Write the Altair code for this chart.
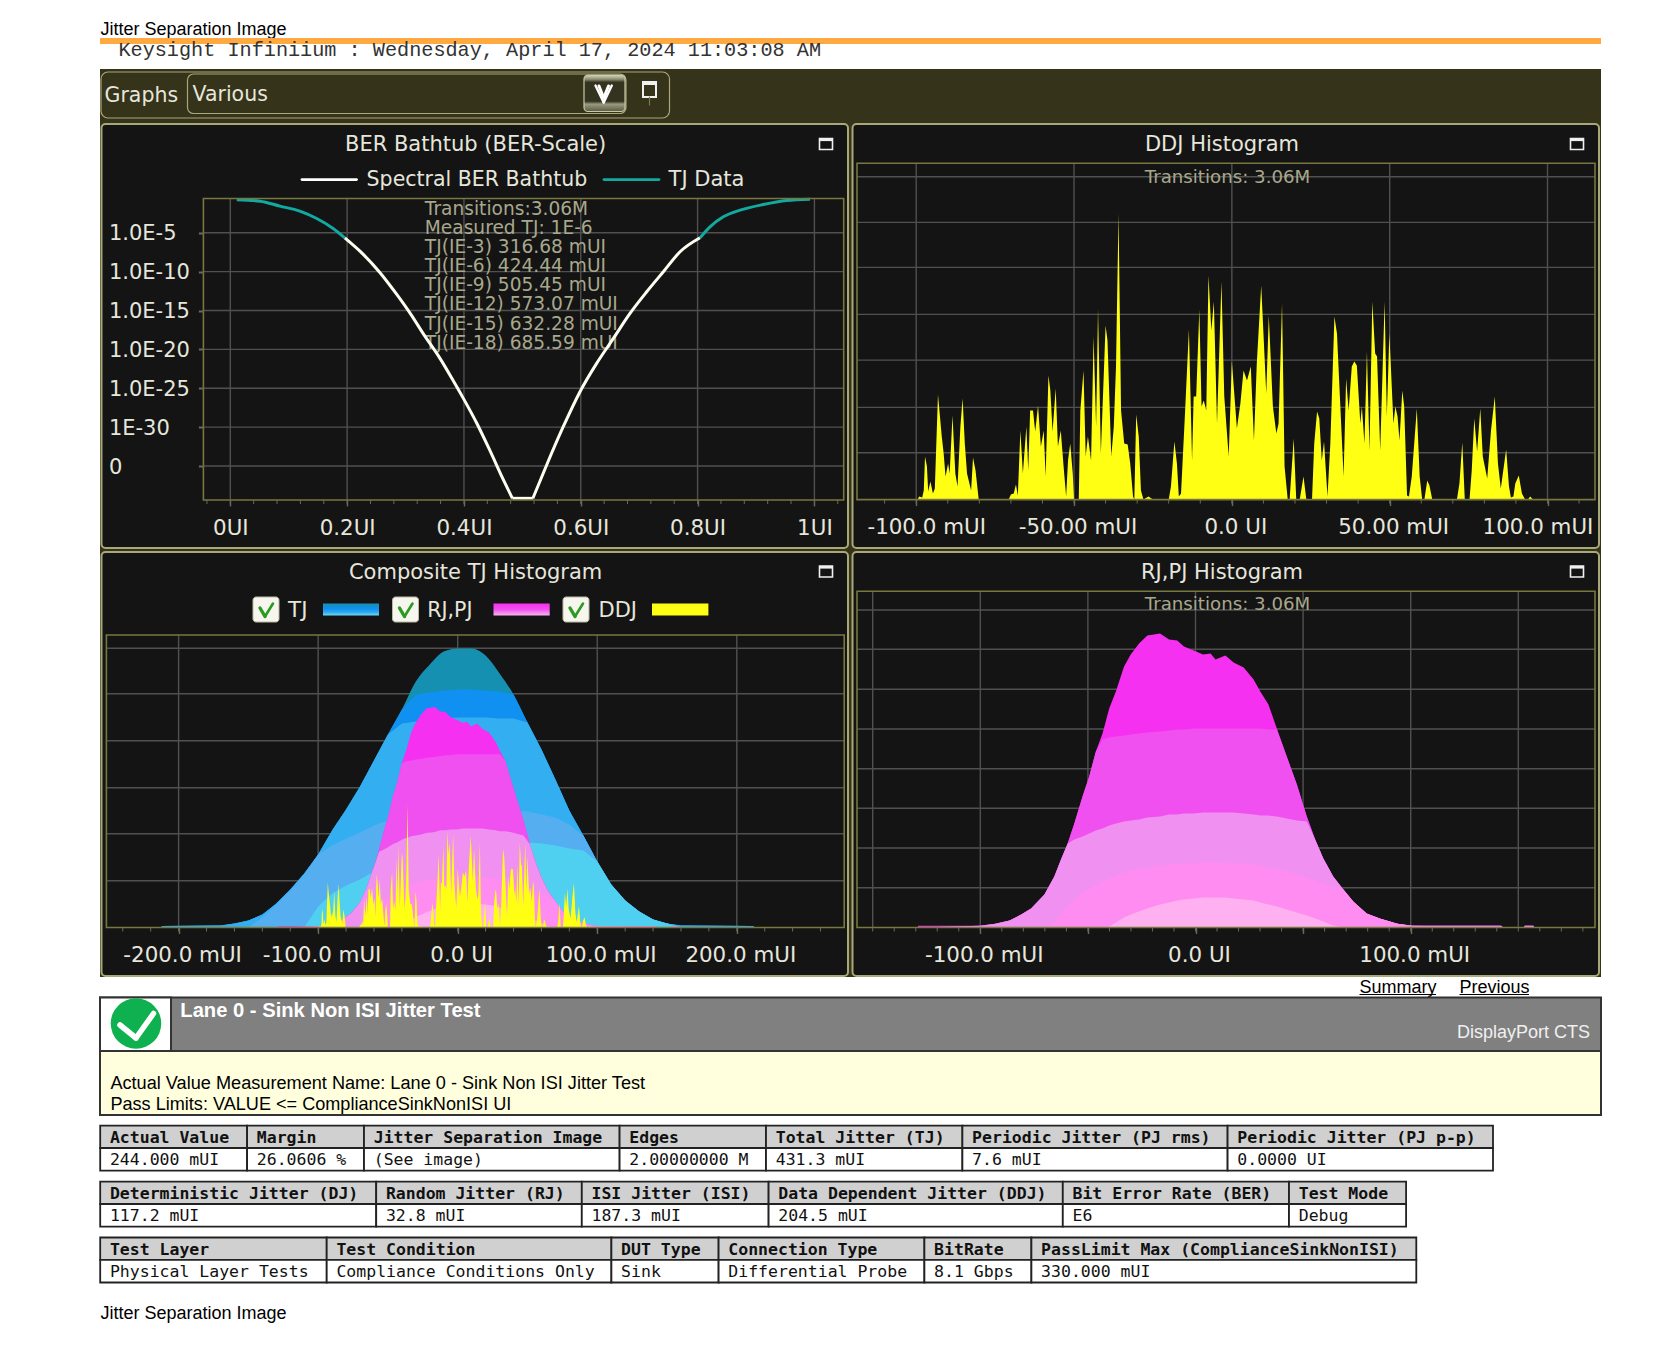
import altair as alt
import pandas as pd

# ---------- values ----------
bt_teal_l_x = [0.011, 0.051, 0.085, 0.119, 0.148, 0.176, 0.196]
bt_teal_l_y = [-0.76, -0.93, -1.57, -2.21, -3.16, -4.44, -5.64]
bt_white_l_x = [0.196, 0.222, 0.256, 0.285, 0.31, 0.33, 0.359, 0.382, 0.399, 0.422, 0.445, 0.467, 0.483]
bt_white_l_y = [-5.64, -7.36, -10.1, -12.93, -15.59, -17.94, -21.16, -24.07, -26.3, -29.5, -33.1, -36.7, -39.16]
bt_floor_x = [0.483, 0.518]
bt_floor_y = [-39.16, -39.16]
bt_white_r_x = [0.518, 0.5416, 0.57, 0.5987, 0.6272, 0.6558, 0.6843, 0.7129, 0.7414, 0.77, 0.8042]
bt_white_r_y = [-39.16, -34.87, -29.95, -25.44, -21.8, -18.59, -15.37, -12.59, -10.01, -7.44, -5.64]
bt_teal_r_x = [0.8042, 0.8213, 0.8441, 0.8726, 0.9126, 0.9525, 0.9925]
bt_teal_r_y = [-5.64, -4.23, -2.94, -2.09, -1.36, -0.84, -0.67]
bt_stats = ["Transitions:3.06M", "Measured TJ: 1E-6", "TJ(IE-3) 316.68 mUI", "TJ(IE-6) 424.44 mUI",
            "TJ(IE-9) 505.45 mUI", "TJ(IE-12) 573.07 mUI", "TJ(IE-15) 632.28 mUI", "TJ(IE-18) 685.59 mUI"]

ddj_x = [-99.5,-99.1,-98.1,-97.6,-97.2,-96.6,-96.2,-95.5,-94.7,-94.1,-93.1,-91.9,-91.3,-90.7,-89.9,-89.4,-88.5,-87.6,-86.9,-86.0,-85.3,-84.6,-83.9,-82.6,-82.0,-81.2,-80.2,
         -70.7,-70.0,-69.1,-68.4,-67.8,-67.0,-66.2,-65.1,-64.5,-63.9,-63.0,-62.3,-61.4,-60.5,-59.6,-59.0,-58.1,-57.5,-56.8,-55.8,-55.1,-54.2,-53.3,-52.5,-51.9,-51.2,-50.4,-50.0,
         -48.5,-48.0,-47.0,-46.3,-45.6,-44.6,-43.8,-43.0,-42.4,-41.5,-40.0,-39.4,-38.2,-37.4,-36.7,-35.9,-35.1,-34.1,-33.0,-32.2,-31.3,-30.9,
         -30.3,-29.5,-28.8,-28.0,-26.4,-25.0,-20.0,-19.3,-18.2,-17.4,-16.8,-16.1,-14.8,-13.6,-12.6,-12.1,-11.3,-10.3,-9.6,-8.9,-8.1,-7.4,-6.5,-5.7,-4.7,-3.3,-2.4,-1.0,0.0,1.6,2.7,3.7,4.8,6.0,7.0,7.9,9.3,10.9,11.7,13.0,14.1,14.8,15.9,16.7,17.7,18.3,19.6,20.4,21.5,22.7,23.6,25.4,26.1,27.0,27.7,28.5,29.2,30.3,31.2,32.5,33.3,35.4,36.2,37.0,38.0,38.8,39.6,40.7,41.2,42.0,
         42.8,43.6,44.5,45.4,46.0,47.0,48.4,49.1,49.9,51.2,51.8,52.5,53.1,54.0,54.6,55.5,56.1,57.0,58.6,59.5,60.3,61.0,61.9,62.6,63.5,71.3,72.1,73.0,73.8,75.3,76.0,76.8,77.7,78.7,79.5,80.9,82.1,83.3,84.3,85.2,86.9,87.8,88.4,89.2,89.8,90.9,91.9,92.9,93.8,94.5,95.4]
ddj_h = [0,3,2,9,43,33,8,18,6,11,105,63,46,23,36,26,84,26,13,73,101,56,26,9,42,29,0,
         0,5,6,15,4,69,26,73,29,89,89,68,94,53,69,23,124,109,68,111,53,69,33,3,39,56,26,0,
         0,89,129,43,63,39,163,73,191,46,174,159,43,73,133,286,89,56,55,36,3,0,
         85,63,9,0,3,0,0,13,58,36,3,6,89,170,39,103,103,190,93,99,89,224,169,198,76,218,103,43,138,71,96,129,119,133,59,136,214,106,184,93,66,76,196,33,0,0,61,0,0,23,0,0,56,88,81,39,58,3,56,183,166,23,121,89,133,138,134,76,93,56,
         148,49,198,146,143,49,198,83,166,76,93,83,59,109,93,4,3,23,91,23,0,0,19,14,0,0,16,57,0,0,29,81,48,91,43,21,69,103,36,11,50,13,2,3,16,24,6,0,0,3,0]

tj_x = [-212,-170,-160,-150,-140,-130,-120,-110,-100,-90,-80,-70,-60,-50,-40,-30,-20,-10,0,10,20,30,40,50,60,70,80,90,100,110,120,130,140,150,160,212]
tj_env = [1.5,2,4,7,13,24,38,54,73,97,118,141,167,193,218,246,263,276,279,279,272,254,233,205,178,148,117,92,66,43,27,16,8,4,2,1.5]
tj_b2 = [226,226,226,226,226,226,226,226,226,226,226,226,226,226,230,233,235,237,238,238,237,236,234,230,226,226,226,226,226,226,226,226,226,226,226,226]
tj_b3 = [202,202,202,202,202,202,202,202,202,202,202,202,202,202,204,206,208,209,210,210,210,209,209,208,205,205,205,205,205,205,205,205,205,205,205,205]
tj_b4 = [0,0,0,0,10,23,37,53,74,82,89,95,102,107,111,114,117,118,118,118,118,117,117,116,113,110,103,94,81,70,60,60,60,60,0,0]
tj_b5 = [0,0,0,0,0,0,0,0,21,34,42,48,56,63,69,74,79,83,84,85,85,85,85,85,84,82,79,77,73,60,50,40,30,4,0,0]

rj_x = [-129,-100,-93,-86.4,-81,-76.4,-70.2,-65.6,-62.5,-59.4,-56.3,-52.5,-49.4,-46.3,-43.2,-40.1,-37,-33.2,-30.1,-26.2,-22.4,-16.5,-12.3,-8.5,-5.4,-0.8,3.5,7,9.3,13.9,17.7,22.4,27,30.1,33.9,37.8,42.4,47.1,51.7,55.6,59.4,64,68.7,73.3,79.5,85.6,93.8,100.7,142,143,152.5,153,157,157.5]
rj_env = [1.7,1.7,3.7,7,13,19,33,51,68,84,104,131,151,176,194,219,236,261,273,284,292,294,288,287,281,277,273,274,268,272,265,260,248,236,223,199,171,143,111,88,69,51,38,26,14,9,3.7,1.7,1.7,0,0,1.7,1.7,0]
rj_b2 = [0,2,190,190,190,190,190,190,190,190,190,190,190,190,188,190,191,192,193,194,195,196,197,198,198,199,199,199,199,199,199,199,199,199,198,198,195,195,195,195,195,195,195,195,195,195,195,195,195,195,195,195,195,195]
rj_b3 = [0,2,86,86,86,86,86,86,86,85,88,91,94,97,99,102,104,106,107,108,110,111,113,113,114,114,115,115,115,115,115,114,113,112,112,111,109,107,106,104,100,100,100,100,100,100,100,100,100,100,100,100,100,100]
rj_b4 = [0,0,0,0,0,0,0,5,14,21,27,35,39,42,46,49,52,55,57,59,60,62,63,63,64,64,65,65,65,65,64,64,63,62,60,59,56,54,50,47,44,41,38,30,20,10,4,2,0,0,0,0,0,0]
rj_b5 = [0,0,0,0,0,0,0,0,0,0,0,0,0,0,0,1,5,10,13,16,19,23,25,27,28,29,30,30,30,30,29,28,27,25,23,21,18,15,12,9,6,2,0,0,0,0,0,0,0,0,0,0,0,0]

t1_head = ["Actual Value", "Margin", "Jitter Separation Image", "Edges", "Total Jitter (TJ)", "Periodic Jitter (PJ rms)", "Periodic Jitter (PJ p-p)"]
t1_vals = ["244.000 mUI", "26.0606 %", "(See image)", "2.00000000 M", "431.3 mUI", "7.6 mUI", "0.0000 UI"]
t2_head = ["Deterministic Jitter (DJ)", "Random Jitter (RJ)", "ISI Jitter (ISI)", "Data Dependent Jitter (DDJ)", "Bit Error Rate (BER)", "Test Mode"]
t2_vals = ["117.2 mUI", "32.8 mUI", "187.3 mUI", "204.5 mUI", "E6", "Debug"]
t3_head = ["Test Layer", "Test Condition", "DUT Type", "Connection Type", "BitRate", "PassLimit Max (ComplianceSinkNonISI)"]
t3_vals = ["Physical Layer Tests", "Compliance Conditions Only", "Sink", "Differential Probe", "8.1 Gbps", "330.000 mUI"]

# ---------- styles ----------
W, H = 1639, 1331
UI = "DejaVu Sans"
ARIAL = "Liberation Sans"
MONO = "DejaVu Sans Mono"
OLIVE = "#35331a"
PANEL = "#141414"
FRAME = "#a8a878"
BORDER = "#77773f"
GRID = "#505050"
TICK = "#6a6a58"
TXT = "#e6e6dc"
DIM = "#a8a88c"
YEL = "#ffff14"
TJ_C = ["#1590b0", "#1090f0", "#33aef0", "#55aef0", "#50d0f0"]
RJ_C = ["#f530f0", "#f050f0", "#f090f0", "#ff8cf0", "#ffb0f0"]

L = []
def P(v):
    return v - 8

def rect(x0, y0, x1, y1, fill=None, stroke=None, sw=1, r=0):
    kw = {}
    if fill is not None:
        kw["fill"] = fill
    else:
        kw["fillOpacity"] = 0
    if stroke is not None:
        kw["stroke"] = stroke
        kw["strokeWidth"] = sw
    if r:
        kw["cornerRadius"] = r
    L.append(alt.Chart().mark_rect(**kw).encode(x=alt.value(P(x0)), x2=alt.value(P(x1)),
                                                y=alt.value(P(y0)), y2=alt.value(P(y1))))

def seg(x0, y0, x1, y1, color, sw=2):
    L.append(alt.Chart().mark_rule(color=color, strokeWidth=sw, strokeCap="round").encode(
        x=alt.value(P(x0)), x2=alt.value(P(x1)), y=alt.value(P(y0)), y2=alt.value(P(y1))))

def text(x, y, s, font=UI, size=20, color=TXT, align="left", weight="normal"):
    L.append(alt.Chart().mark_text(text=s, font=font, fontSize=size, color=color, align=align,
                                   baseline="middle", fontWeight=weight).encode(x=alt.value(P(x)), y=alt.value(P(y + 1))))

def scale(dom, rng):
    return alt.Scale(domain=dom, range=[P(rng[0]), P(rng[1])], nice=False, zero=False)

def area(xs, hs, color, xsc, ysc, interp="linear"):
    df = pd.DataFrame({"x": xs, "h": hs})
    L.append(alt.Chart(df).mark_area(color=color, interpolate=interp).encode(
        x=alt.X("x:Q", scale=xsc, axis=None), y=alt.Y("h:Q", scale=ysc, axis=None, stack=None)))

def line(xs, ys, color, xsc, ysc, sw=3):
    df = pd.DataFrame({"x": xs, "y": ys})
    L.append(alt.Chart(df).mark_line(color=color, strokeWidth=sw, interpolate="monotone").encode(
        x=alt.X("x:Q", scale=xsc, axis=None), y=alt.Y("y:Q", scale=ysc, axis=None)))

def grid_x(vals, xsc, top, bot, axis=None):
    L.append(alt.Chart(pd.DataFrame({"v": vals})).mark_rule(color=GRID, strokeWidth=1.4).encode(
        x=alt.X("v:Q", scale=xsc, axis=axis), y=alt.value(P(top)), y2=alt.value(P(bot))))

def grid_y(vals, ysc, left, right, axis=None):
    L.append(alt.Chart(pd.DataFrame({"v": vals})).mark_rule(color=GRID, strokeWidth=1.4).encode(
        y=alt.Y("v:Q", scale=ysc, axis=axis), x=alt.value(P(left)), x2=alt.value(P(right))))

def minor_ticks(vals, xsc, bot):
    L.append(alt.Chart(pd.DataFrame({"v": vals})).mark_rule(color=TICK, strokeWidth=1).encode(
        x=alt.X("v:Q", scale=xsc, axis=None), y=alt.value(P(bot)), y2=alt.value(P(bot + 4))))

def x_axis(vals, bot, expr, off):
    return alt.Axis(values=vals, orient="bottom", offset=P(bot) - H, tickSize=6, tickColor=TICK, tickWidth=1.4,
                    domain=False, grid=False, title=None, labelExpr=expr, labelFont=UI, labelFontSize=21.4,
                    labelColor=TXT, labelPadding=22, labelBaseline="middle", labelFlush=False, labelOverlap=False,
                    labelBound=False, labelOffset=off, zindex=1)

def maxicon(x0, y0):
    rect(x0, y0, x0 + 13, y0 + 11, stroke="#f0f0f0", sw=1.6)
    rect(x0, y0, x0 + 13, y0 + 2.6, fill="#f0f0f0")

def checkbox(x0):
    rect(x0, 597, x0 + 26, 622, fill="#f6f6ee", stroke="#b8b8a0", sw=1, r=3)
    seg(x0 + 7, 608, x0 + 12, 616.5, "#2a9a20", 3.4)
    seg(x0 + 12, 616.5, x0 + 20, 603.5, "#2a9a20", 2.6)

def grad(stops):
    return alt.LinearGradient(gradient="linear", x1=0, y1=0, x2=0, y2=1,
                              stops=[alt.GradientStop(color=c, offset=o) for o, c in stops])

MUI = ("datum.value==0?'0.0 UI':replace(format(datum.value,abs(datum.value)==50?'.2f':'.1f'),'\u2212','-')+' mUI'")

# ---------- page header ----------
text(100.5, 29, "Jitter Separation Image", font=ARIAL, size=18, color="#000000")
rect(100, 38, 1601, 44, fill="#ffa940")
text(118.4, 49, "Keysight Infiniium : Wednesday, April 17, 2024 11:03:08 AM", font="Liberation Mono", size=20.2, color="#333333")

# ---------- scope frame ----------
rect(100, 69, 1601, 977, fill=OLIVE)
rect(101, 72, 669.5, 118, stroke=FRAME, sw=1.2, r=7)
text(104.5, 95, "Graphs", size=20.5, color=TXT)
rect(187.5, 74, 626, 113.5, stroke=FRAME, sw=1.2, r=6)
text(192.5, 94, "Various", size=20.5, color=TXT)
rect(584, 75, 625, 111.5, fill=grad([(0, "#d8d8c0"), (0.12, "#8a8a70"), (0.2, "#33331f"), (0.72, "#33331f"), (0.8, "#9a9a80"), (1, "#5a5a44")]), stroke="#c8c8a8", sw=1.2, r=4)
seg(595.5, 85.5, 603.7, 102.5, "#ffffff", 2.4)
seg(611.8, 85.5, 603.7, 102.5, "#ffffff", 2.4)
seg(599, 86, 603.7, 98, "#ffffff", 3)
seg(608.5, 86, 603.7, 98, "#ffffff", 3)
rect(643, 82, 656, 97, stroke="#f0f0f0", sw=2)
rect(643, 82, 656, 85, fill="#f0f0f0")
seg(649.5, 97, 649.5, 105, "#77775c", 1.2)

for x0, y0, x1, y1 in [(101.5, 124, 848, 548), (852.5, 124, 1599, 548), (101.5, 552, 848, 976), (852.5, 552, 1599, 976)]:
    rect(x0, y0, x1, y1, fill=PANEL, stroke=FRAME, sw=2, r=4)

# ---------- BER bathtub ----------
bx = scale([0, 1], [230.3, 814.4])
by = scale([-5, -35], [232.8, 466])
bot = 500
grid_x([0, 0.2, 0.4, 0.6, 0.8, 1], bx, 198.5, bot,
       x_axis([0, 0.2, 0.4, 0.6, 0.8, 1], bot, "datum.value+'UI'", 0))
grid_y([-5, -10, -15, -20, -25, -30, -35], by, 203.4, 843.7,
       alt.Axis(values=[-5, -10, -15, -20, -25, -30, -35], orient="left", offset=-P(203.4), tickSize=5, tickColor=TICK,
                tickWidth=2, domain=False, grid=False, title=None, labelFont=UI, labelFontSize=21, labelColor=TXT,
                labelAlign="left", labelBaseline="middle", labelPadding=90, labelOverlap=False, labelBound=False,
                labelFlush=False, labelOffset=1, zindex=1,
                labelExpr="datum.value==-35?'0':datum.value==-30?'1E-30':'1.0E'+datum.value"))
minor_ticks([i * 0.04 - 0.04 for i in range(28)], bx, bot)
for i, s in enumerate(bt_stats):
    text(424.8, 207.9 + i * 19.1, s, size=18.6, color=DIM)
line(bt_white_l_x, bt_white_l_y, "#fdfdf0", bx, by)
line(bt_floor_x, bt_floor_y, "#fdfdf0", bx, by)
line(bt_white_r_x, bt_white_r_y, "#fdfdf0", bx, by)
line(bt_teal_l_x, bt_teal_l_y, "#12aaa0", bx, by)
line(bt_teal_r_x, bt_teal_r_y, "#12aaa0", bx, by)
rect(203.4, 198.5, 843.7, bot, stroke=BORDER, sw=1.6)
text(475.6, 144, "BER Bathtub (BER-Scale)", size=21, align="center")
maxicon(819.5, 138.5)
seg(302, 179.6, 356.5, 179.6, "#ffffff", 2.8)
text(366.6, 178.6, "Spectral BER Bathtub", size=20.5)
seg(604, 179.6, 659, 179.6, "#12aaa0", 2.8)
text(668.6, 178.6, "TJ Data", size=21)

# ---------- DDJ histogram ----------
dx = scale([-100, 100], [916.2, 1547.5])
bot = 499.6
dy = scale([0, 300], [bot, bot - 300])
grid_x([-100, -50, 0, 50, 100], dx, 163.3, bot,
       x_axis([-100, -50, 0, 50, 100], bot, MUI,
              {"condition": [{"test": "datum.value==-100", "value": 10}, {"test": "datum.value==100", "value": -10}], "value": 3.5}))
grid_y([46.8, 92.2, 139.5, 185.2, 232.2, 277.2, 322.8], dy, 857, 1595)
minor_ticks([i * 10 - 110 for i in range(23)], dx, bot)
area(ddj_x, ddj_h, YEL, dx, dy)
rect(857, 163.3, 1595, bot, stroke=BORDER, sw=1.6)
text(1222, 144, "DDJ Histogram", size=21, align="center")
maxicon(1570.5, 138.5)
text(1227.5, 176.7, "Transitions: 3.06M", size=18.2, color=DIM, align="center")

# ---------- Composite TJ histogram ----------
cx = scale([-200, 200], [178.6, 736.8])
bot = 927.5
cy = scale([0, 300], [bot, bot - 300])
cyd = scale([0, 300], [bot, bot - 300 * 0.429])
grid_x([-200, -100, 0, 100, 200], cx, 635, bot,
       x_axis([-200, -100, 0, 100, 200], bot, MUI, 3.5))
grid_y([46.8, 93.8, 139.8, 186.8, 233.8, 279.2], cy, 106.4, 844.2)
minor_ticks([i * 20 - 240 for i in range(26)], cx, bot)
area(tj_x, tj_env, TJ_C[0], cx, cy, "monotone")
for band, c in zip([tj_b2, tj_b3, tj_b4, tj_b5], TJ_C[1:]):
    area(tj_x, [min(e, b) for e, b in zip(tj_env, band)], c, cx, cy)
comp_env = [e * 0.75 for e in rj_env]
area(rj_x, comp_env, RJ_C[0], cx, cy)
for band, c, k in zip([rj_b2, rj_b3, rj_b4, rj_b5], RJ_C[1:], [0.87, 0.86, 0.78, 0.8]):
    area(rj_x, [min(e, b * k) for e, b in zip(comp_env, band)], c, cx, cy)
area(ddj_x, ddj_h, YEL, cx, cyd)
rect(106.4, 635, 844.2, bot, stroke=BORDER, sw=1.6)
text(475.6, 571.7, "Composite TJ Histogram", size=21, align="center")
maxicon(819.5, 566)
checkbox(253)
text(288, 609.5, "TJ", size=21.5)
rect(323, 603.5, 379, 615.5, fill=grad([(0, "#1590b0"), (0.45, "#1090f0"), (0.75, "#33aef0"), (1, "#70dcf5")]))
checkbox(392.5)
text(427.3, 609.5, "RJ,PJ", size=20.5)
rect(493.5, 603.5, 549.7, 615.5, fill=grad([(0, "#f530f0"), (0.5, "#f050f0"), (0.8, "#f090f0"), (1, "#ffb0f0")]))
checkbox(563)
text(598.5, 609.5, "DDJ", size=21)
rect(652, 603.5, 708.4, 615.5, fill=YEL)

# ---------- RJ,PJ histogram ----------
rx = scale([-100, 100], [980.3, 1410.7])
ry = scale([0, 300], [bot, bot - 300])
grid_x([-150, -100, -50, 0, 50, 100, 150], rx, 591.3, bot,
       x_axis([-150, -100, -50, 0, 50, 100, 150], bot,
              "abs(datum.value)==100||datum.value==0?(" + MUI + "):''", 3.5))
grid_y([39.8, 79.5, 119.2, 158.8, 198.5, 238.2, 278.2, 317.5], ry, 857, 1595)
minor_ticks([i * 10 - 150 for i in range(34)], rx, bot)
area(rj_x, rj_env, RJ_C[0], rx, ry)
for band, c in zip([rj_b2, rj_b3, rj_b4, rj_b5], RJ_C[1:]):
    area(rj_x, [min(e, b) for e, b in zip(rj_env, band)], c, rx, ry)
rect(857, 591.3, 1595, bot, stroke=BORDER, sw=1.6)
text(1222, 571.7, "RJ,PJ Histogram", size=21, align="center")
maxicon(1570.5, 566)
text(1227.5, 604.3, "Transitions: 3.06M", size=18.2, color=DIM, align="center")

# ---------- result header ----------
text(1359.5, 986.5, "Summary", font=ARIAL, size=18, color="#000000")
rect(1359.5, 994, 1436, 995, fill="#000000")
text(1459.5, 986.5, "Previous", font=ARIAL, size=18, color="#000000")
rect(1459.5, 994, 1529, 995, fill="#000000")
rect(100, 997.5, 1601, 1051, fill="#808080", stroke="#333333", sw=2)
rect(100, 997.5, 171, 1051, fill="#ffffff", stroke="#333333", sw=2)
L.append(alt.Chart().mark_point(shape="circle", filled=True, fill="#0fb050", size=2550, opacity=1).encode(
    x=alt.value(P(136)), y=alt.value(P(1023.5))))
seg(120, 1025, 136, 1038, "#ffffff", 5.5)
seg(136, 1038, 153.5, 1013.5, "#ffffff", 5.5)
text(180.3, 1010, "Lane 0 - Sink Non ISI Jitter Test", font=ARIAL, size=20.2, color="#ffffff", weight="bold")
text(1590, 1031.5, "DisplayPort CTS", font=ARIAL, size=18, color="#f0f0f0", align="right")
rect(100, 1051, 1601, 1115, fill="#ffffdd", stroke="#333333", sw=2)
text(110.4, 1082.7, "Actual Value Measurement Name: Lane 0 - Sink Non ISI Jitter Test", font=ARIAL, size=18.15, color="#000000")
text(110.4, 1104, "Pass Limits: VALUE <= ComplianceSinkNonISI UI", font=ARIAL, size=18.1, color="#000000")

# ---------- measurement tables ----------
def table(edges, top, head, vals):
    mid, end = top + 22.3, top + 45
    for i in range(len(head)):
        rect(edges[i], top, edges[i + 1], mid, fill="#d0d0d0", stroke="#222222", sw=1.8)
        rect(edges[i], mid, edges[i + 1], end, fill="#ffffff", stroke="#222222", sw=1.8)
        text(edges[i] + 9.7, top + 11.4, head[i], font=MONO, size=16.5, color="#111111", weight="bold")
        text(edges[i] + 9.7, mid + 11.4, vals[i], font=MONO, size=16.5, color="#111111")

table([100.2, 247.1, 364, 619.6, 766, 962.4, 1227.6, 1493], 1125.7, t1_head, t1_vals)
table([100.2, 376.2, 581.8, 768.6, 1062.8, 1289, 1406.1], 1181.7, t2_head, t2_vals)
table([100.2, 326.7, 611.4, 718.6, 924.4, 1031.4, 1416.3], 1237.5, t3_head, t3_vals)
text(100.5, 1313, "Jitter Separation Image", font=ARIAL, size=18, color="#000000")

chart = (alt.layer(*L)
         .resolve_scale(x="independent", y="independent")
         .resolve_axis(x="independent", y="independent")
         .properties(width=W, height=H, padding=0, background="#ffffff",
                     autosize=alt.AutoSizeParams(type="none"))
         .configure_view(strokeWidth=0))
chart.save("out.html", embed_options={"renderer": "svg", "actions": False})
